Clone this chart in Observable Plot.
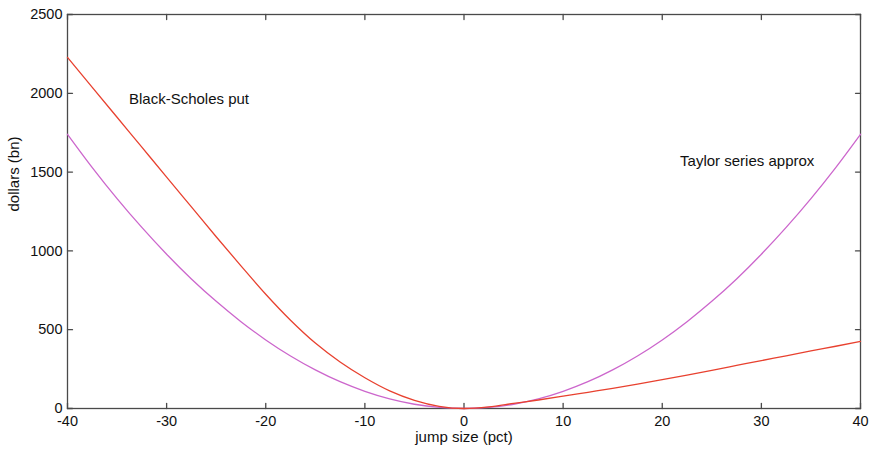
<!DOCTYPE html>
<html>
<head>
<meta charset="utf-8">
<script src="https://cdn.jsdelivr.net/npm/d3@7"></script>
<script src="https://cdn.jsdelivr.net/npm/@observablehq/plot@0.6"></script>
<style>
  html, body { margin: 0; padding: 0; background: #fff; }
  #chart svg { display: block; }
</style>
</head>
<body>
<div id="chart"></div>
<script>
// jump size (pct)
const jumpSize = [-40, -37.5, -35, -32.5, -30, -27.5, -25, -22.5, -20, -17.5, -15, -12.5, -10, -7.5, -5, -2.5, 0,
                  2.5, 5, 7.5, 10, 12.5, 15, 17.5, 20, 22.5, 25, 27.5, 30, 32.5, 35, 37.5, 40];
// Black-Scholes put value (dollars, bn)
const blackScholes = [2228, 2038, 1848, 1658, 1468, 1279, 1090, 905, 725, 560, 415, 295, 195, 112, 52, 14, 0,
                      10, 32, 54, 78, 103, 128, 155, 183, 212, 242, 273, 304, 334, 365, 395, 426];
// Taylor series approximation (dollars, bn)
const taylor = [1740, 1529, 1332, 1149, 979, 822, 680, 551, 435, 333, 245, 170, 109, 61, 27, 7, 0,
                7, 27, 61, 109, 170, 245, 333, 435, 551, 680, 822, 979, 1149, 1332, 1529, 1740];

const xTicks = [-40, -30, -20, -10, 0, 10, 20, 30, 40];
const yTicks = [0, 500, 1000, 1500, 2000, 2500];

const seriesNames = ["Black-Scholes put", "Taylor series approx"];
const labelX = [-33.8, 21.8];
const labelY = [1960, 1572];

const bsData = jumpSize.map((x, i) => ({x, y: blackScholes[i]}));
const tyData = jumpSize.map((x, i) => ({x, y: taylor[i]}));
const labelData = seriesNames.map((t, i) => ({t, x: labelX[i], y: labelY[i]}));

const font = "'Liberation Sans', Arial, Helvetica, sans-serif";
const axisColor = "#4a4a4a";
const fs = 15;
const tfs = 14.5;
const fmt = d => String(d);
const tickShape = {draw(context, l) { context.moveTo(0, 0); context.lineTo(0, -l); }};
const tickOpts = {length: 5, anchor: "start", shape: tickShape, stroke: axisColor, strokeWidth: 1.3};

const chart = Plot.plot({
  width: 871,
  height: 450,
  marginLeft: 67,
  marginRight: 11,
  marginTop: 14,
  marginBottom: 42,
  style: {fontFamily: font, fontSize: fs + "px", color: "#111", background: "#fff"},
  x: {domain: [-40, 40]},
  y: {domain: [0, 2500]},
  marks: [
    // tick labels
    Plot.axisX(xTicks, {anchor: "bottom", tickSize: 0, tickPadding: 7, fontSize: tfs, label: null, tickFormat: fmt, fill: "#111"}),
    Plot.axisY(yTicks, {anchor: "left", tickSize: 0, tickPadding: 5, fontSize: tfs, label: null, tickFormat: fmt, fill: "#111"}),
    // inward ticks on all four sides
    Plot.vector(xTicks, {x: d => d, frameAnchor: "bottom", rotate: 0, ...tickOpts}),
    Plot.vector(xTicks, {x: d => d, frameAnchor: "top", rotate: 180, ...tickOpts}),
    Plot.vector(yTicks, {y: d => d, frameAnchor: "left", rotate: 90, ...tickOpts}),
    Plot.vector(yTicks, {y: d => d, frameAnchor: "right", rotate: -90, ...tickOpts}),
    Plot.frame({stroke: axisColor, strokeWidth: 1.3}),
    Plot.line(tyData, {x: "x", y: "y", stroke: "#cc66cc", strokeWidth: 1.3, curve: "monotone-x"}),
    Plot.line(bsData, {x: "x", y: "y", stroke: "#e8412f", strokeWidth: 1.3, curve: "monotone-x"}),
    Plot.text(labelData, {x: "x", y: "y", text: "t", textAnchor: "start", fontSize: fs, fill: "#111"}),
    Plot.text(["jump size (pct)"], {frameAnchor: "bottom", dy: 33, fontSize: fs, fill: "#111"}),
    Plot.text(["dollars (bn)"], {frameAnchor: "left", dx: -53, rotate: -90, fontSize: fs, fill: "#111"})
  ]
});
document.getElementById("chart").appendChild(chart);
</script>
</body>
</html>
